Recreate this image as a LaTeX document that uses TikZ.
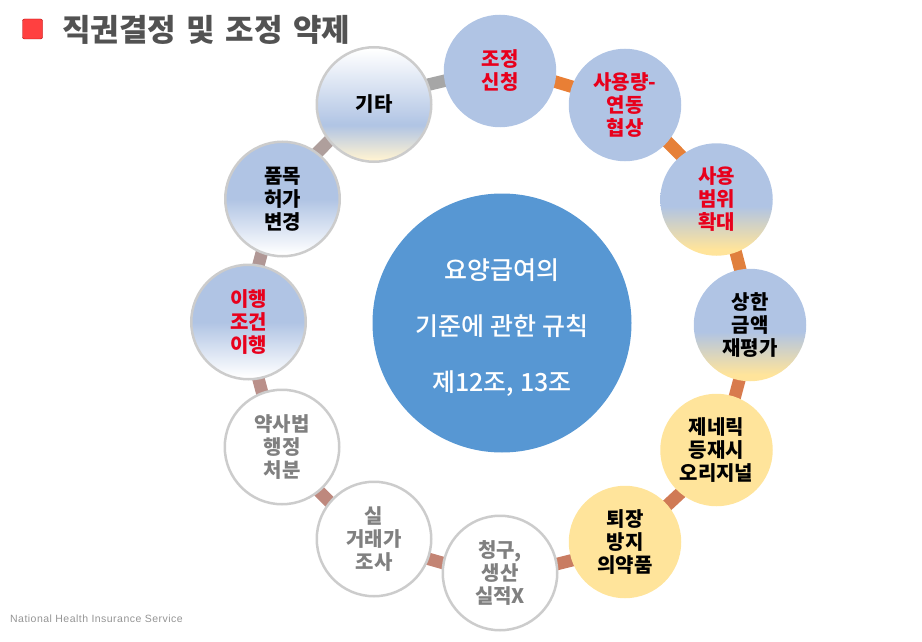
\documentclass[tikz,border=0pt]{standalone}
\usepackage{fontspec}
\setmainfont{Noto Sans CJK KR}
\newfontfamily\mediumfont{Noto Sans CJK KR Medium}
\newfontfamily\latinfont[LetterSpace=4.5]{Liberation Sans}
\usetikzlibrary{backgrounds}

\definecolor{skyblue}{HTML}{B0C4E4}
\definecolor{sand}{HTML}{FFE49B}
\definecolor{redtext}{HTML}{E8001C}

% the shaded path covers 25bp to 75bp of these
\pgfdeclareverticalshading{bluesand}{100bp}{color(0bp)=(sand); color(28bp)=(sand); color(47bp)=(skyblue); color(100bp)=(skyblue)}
\pgfdeclareverticalshading{bluewhite}{100bp}{color(0bp)=(white); color(26bp)=(white); color(50bp)=(skyblue); color(100bp)=(skyblue)}
\pgfdeclareverticalshading{whitesand}{100bp}{color(0bp)=(sand!45!white); color(26bp)=(sand!45!white); color(41bp)=(skyblue); color(74bp)=(white); color(100bp)=(white)}

\begin{document}
\begin{tikzpicture}[x=1pt, y=-1pt,
  every node/.style = {align=center, inner sep=0pt},
  item/.style = {shape=circle, minimum size=112.5, font=\bfseries\fontsize{20}{23}\selectfont},
  ringed/.style = {item, draw=black!20, line width=2.5, minimum size=114.5},
  blue/.style = {item, fill=skyblue},
  gold/.style = {item, fill=sand},
  faded/.style = {ringed, fill=white, text=black!50},
  link/.style = {line width=12.5, shorten <=-2, shorten >=-2}]

  \useasboundingbox (0,0) rectangle (922,642);

  \node[shape=rectangle, rounded corners=2, draw=red!70!black, fill=red!75!white,
    minimum size=20] (bullet) at (32.5,29) {};
  \node[text=black!68, font=\bfseries\fontsize{31}{36}\selectfont, anchor=west] (title) at (62,30)
    {\spaceskip=10.5pt 직권결정 및 조정 약제};

  \node[shape=circle, fill={rgb,255:red,87;green,151;blue,211}, minimum size=259,
    text=white, font=\mediumfont\fontsize{25}{56}\selectfont] (rule) at (502,323)
    {\rule{0pt}{29pt}요양급여의\\기준에 관한 규칙\\제12조, 13조};

  \node[blue, text=redtext] (apply) at (500,71) {조정\\신청};
  \node[blue, text=redtext] (volume) at (625,105) {사용량-\\연동\\협상};
  \node[item, shading=bluesand, text=redtext] (scope) at (716.5,199.5) {사용\\범위\\확대};
  \node[item, shading=bluesand] (ceiling) at (750,325) {상한\\금액\\재평가};
  \node[gold] (generic) at (716.5,450) {제네릭\\등재시\\오리지널};
  \node[gold] (retired) at (625,542) {퇴장\\방지\\의약품};
  \node[faded] (claim) at (500,573) {청구,\\생산\\실적X};
  \node[faded] (trade) at (374,539) {실\\거래가\\조사};
  \node[faded] (penalty) at (282,447) {약사법\\행정\\처분};
  \node[ringed, shading=bluewhite, text=redtext] (terms) at (248.5,322) {이행\\조건\\이행};
  \node[ringed, shading=bluewhite] (change) at (282.5,199) {품목\\허가\\변경};
  \node[ringed, shading=whitesand] (other) at (374,104.5) {기타};

  \node[text=black!42, font=\latinfont\fontsize{10.5}{12}\selectfont, anchor=west] (footer) at (10,619)
    {National Health Insurance Service};

  \begin{scope}[on background layer]
    \draw[link, color={rgb,255:red,166;green,166;blue,166}] (other.20) -- (apply.190);
    \draw[link, color={rgb,255:red,233;green,127;blue,53}] (apply.-11) -- (volume.161);
    \draw[link, color={rgb,255:red,230;green,128;blue,56}] (volume.-41) -- (scope.129);
    \draw[link, color={rgb,255:red,224;green,128;blue,62}] (scope.-70) -- (ceiling.100);
    \draw[link, color={rgb,255:red,216;green,123;blue,78}] (ceiling.-101) -- (generic.71);
    \draw[link, color={rgb,255:red,208;green,122;blue,85}] (generic.-130) -- (retired.41);
    \draw[link, color={rgb,255:red,201;green,124;blue,98}] (retired.-161) -- (claim.9);
    \draw[link, color={rgb,255:red,195;green,132;blue,116}] (claim.170) -- (trade.-20);
    \draw[link, color={rgb,255:red,190;green,136;blue,125}] (trade.140) -- (penalty.-50);
    \draw[link, color={rgb,255:red,186;green,144;blue,138}] (penalty.110) -- (terms.-80);
    \draw[link, color={rgb,255:red,176;green,151;blue,149}] (terms.80) -- (change.-111);
    \draw[link, color={rgb,255:red,175;green,159;blue,156}] (change.53) -- (other.-141);
  \end{scope}
\end{tikzpicture}
\end{document}
